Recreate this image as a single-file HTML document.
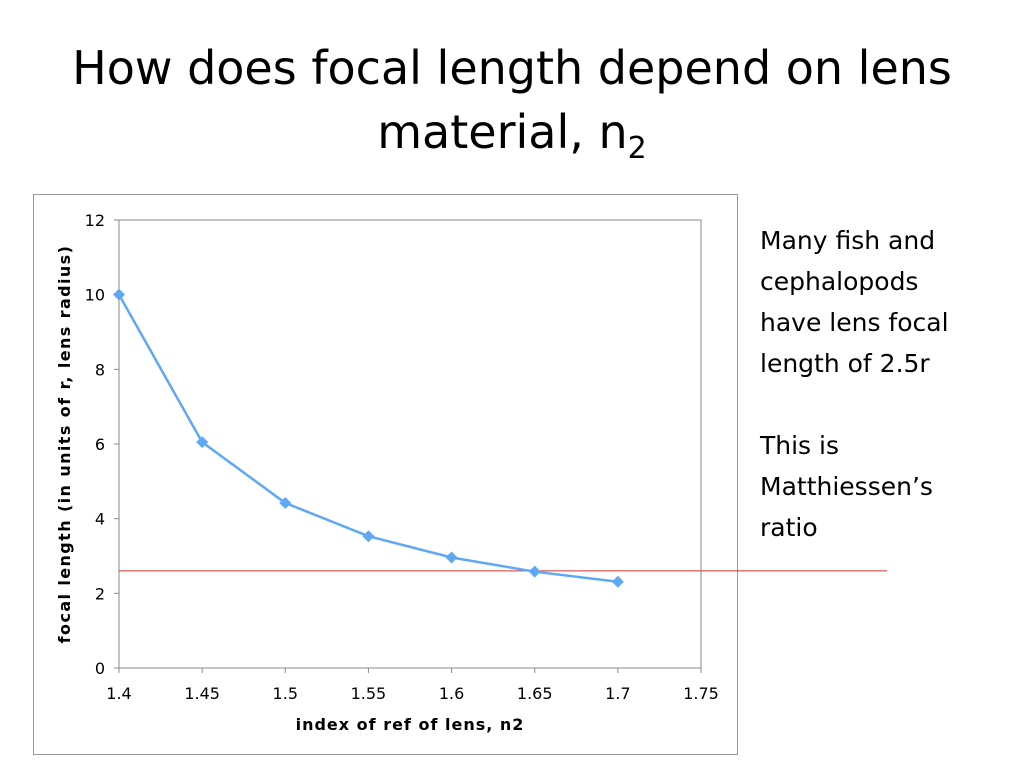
<!DOCTYPE html>
<html><head><meta charset="utf-8"><style>
body{margin:0;width:1024px;height:768px;background:#fff;font-family:"DejaVu Sans","Liberation Sans",sans-serif;overflow:hidden;position:relative}
.title{position:absolute;left:0;width:1024px;top:36px;text-align:center;font-size:46px;line-height:64px;color:#000}
.note{position:absolute;left:760px;top:220px;font-size:25px;line-height:41px;color:#000}
svg{position:absolute;left:0;top:0}
</style></head><body>
<div class="title">How does focal length depend on lens<br>material, n<sub style="font-size:30px">2</sub></div>
<div class="note">Many fish and<br>cephalopods<br>have lens focal<br>length of 2.5r<br><br>This is<br>Matthiessen’s<br>ratio</div>
<svg id="chart" width="1024" height="768"></svg>
<script>
const xValues=[1.4,1.45,1.5,1.55,1.6,1.65,1.7];
const yValues=[10,6.05,4.42,3.53,2.96,2.58,2.31];
const xTicks=[1.4,1.45,1.5,1.55,1.6,1.65,1.7,1.75];
const yTicks=[0,2,4,6,8,10,12];
const refLine=[2.6];
const L=119,R=701,T=220,B=668;
const sx=v=>L+(v-1.4)/(1.75-1.4)*(R-L);
const sy=v=>B-v/12*(B-T);
const svg=document.getElementById('chart');
const NS='http://www.w3.org/2000/svg';
function mk(t,a,p){const e=document.createElementNS(NS,t);for(const k in a)e.setAttribute(k,a[k]);(p||svg).appendChild(e);return e;}
let e=mk('rect',{x:33.5,y:194.5,width:704,height:560,fill:'none',stroke:'#999'});

e=mk('rect',{x:L,y:T,width:R-L,height:B-T,fill:'none',stroke:'#888'});

yTicks.forEach(v=>{mk('line',{x1:L-5,x2:L,y1:sy(v),y2:sy(v),stroke:'#888'});
 e=mk('text',{x:L-14,y:sy(v)+6,'text-anchor':'end','font-size':16,fill:'#000'});e.textContent=v;
 });
xTicks.forEach(v=>{mk('line',{x1:sx(v),x2:sx(v),y1:B,y2:B+5,stroke:'#888'});
 e=mk('text',{x:sx(v),y:B+31,'text-anchor':'middle','font-size':16,fill:'#000'});e.textContent=v;
 });
e=mk('text',{x:410,y:730,'text-anchor':'middle','font-size':16,'font-weight':'bold','letter-spacing':1});e.textContent='index of ref of lens, n2';

e=mk('text',{x:0,y:0,'text-anchor':'middle','font-size':16,'font-weight':'bold','letter-spacing':1.4,transform:'translate(70,444) rotate(-90)'});e.textContent='focal length (in units of r, lens radius)';

e=mk('line',{x1:L,x2:887,y1:sy(refLine[0]),y2:sy(refLine[0]),stroke:'#d03030','stroke-width':1});

e=mk('polyline',{points:xValues.map((x,i)=>sx(x)+','+sy(yValues[i])).join(' '),fill:'none',stroke:'#5fa8f5','stroke-width':2.5});

xValues.forEach((x,i)=>{const cx=sx(x),cy=sy(yValues[i]);
 e=mk('polygon',{points:`${cx},${cy-6} ${cx+6},${cy} ${cx},${cy+6} ${cx-6},${cy}`,fill:'#5fa8f5'});
 });
</script>
</body></html>
